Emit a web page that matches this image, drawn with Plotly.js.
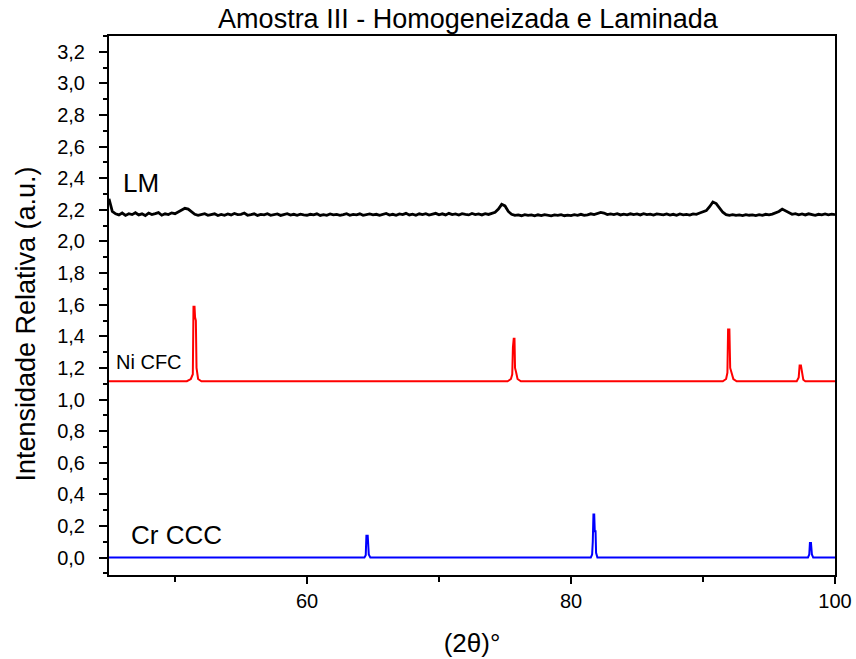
<!DOCTYPE html>
<html>
<head>
<meta charset="utf-8">
<script src="https://cdn.plot.ly/plotly-3.0.1.min.js"></script>
<style>html,body{margin:0;padding:0;background:#fff}#chart{width:856px;height:659px}</style>
</head>
<body>
<div id="chart"></div>
<script>
// LM pattern: 2theta from 45 to 100, step 0.25
const lmStart = 45;
const lmStep = 0.25;
const lmY = [
  2.27, 2.19, 2.175, 2.168, 2.18, 2.165, 2.176, 2.17, 2.182, 2.168, 2.175, 2.164, 2.18, 2.17, 2.176, 2.183, 2.166, 2.175, 2.17, 2.181,
  2.176, 2.186, 2.2, 2.21, 2.205, 2.19, 2.172, 2.165, 2.171, 2.176, 2.166, 2.17, 2.175, 2.164, 2.171, 2.166, 2.174, 2.168, 2.177, 2.17,
  2.172, 2.18, 2.166, 2.17, 2.175, 2.165, 2.171, 2.168, 2.176, 2.166, 2.17, 2.174, 2.165, 2.17, 2.176, 2.167, 2.172, 2.166, 2.173, 2.169,
  2.166, 2.172, 2.168, 2.175, 2.165, 2.17, 2.166, 2.174, 2.168, 2.171, 2.165, 2.17, 2.176, 2.166, 2.171, 2.169, 2.175, 2.166, 2.17, 2.174,
  2.168, 2.172, 2.165, 2.171, 2.177, 2.167, 2.172, 2.166, 2.174, 2.17, 2.178, 2.168, 2.173, 2.166, 2.175, 2.17, 2.176, 2.167, 2.172, 2.178,
  2.169, 2.175, 2.168, 2.178, 2.17, 2.174, 2.167, 2.176, 2.171, 2.168, 2.177, 2.17, 2.174, 2.168, 2.176, 2.171, 2.178, 2.185, 2.205, 2.235,
  2.225, 2.19, 2.172, 2.165, 2.168, 2.163, 2.17, 2.165, 2.168, 2.162, 2.169, 2.164, 2.17, 2.166, 2.162, 2.168, 2.165, 2.17, 2.163, 2.167,
  2.164, 2.17, 2.166, 2.172, 2.165, 2.169, 2.175, 2.17, 2.178, 2.184, 2.18, 2.17, 2.174, 2.17, 2.176, 2.168, 2.173, 2.169, 2.175, 2.17,
  2.174, 2.168, 2.176, 2.17, 2.173, 2.167, 2.175, 2.17, 2.168, 2.174, 2.167, 2.172, 2.166, 2.174, 2.169, 2.172, 2.167, 2.175, 2.172, 2.18,
  2.186, 2.195, 2.22, 2.25, 2.24, 2.21, 2.185, 2.17, 2.166, 2.17, 2.165, 2.168, 2.164, 2.17, 2.166, 2.168, 2.164, 2.17, 2.166, 2.172,
  2.168, 2.173, 2.18, 2.19, 2.205, 2.195, 2.18, 2.172, 2.176, 2.169, 2.174, 2.168, 2.175, 2.17, 2.166, 2.172, 2.168, 2.174, 2.169, 2.173,
  2.17
];

// Ni CFC reference pattern
const niX = [45, 50.9, 51.2, 51.35, 51.4, 51.48, 51.52, 51.58, 51.63, 51.75, 52.0,
             75.2, 75.45, 75.55, 75.6, 75.66, 75.72, 75.76, 75.85, 75.95, 76.2,
             91.5, 91.75, 91.85, 91.9, 92.0, 92.06, 92.15, 92.3, 92.55,
             97.1, 97.25, 97.32, 97.42, 97.5, 97.6, 97.75, 100];
const niY = [1.116, 1.116, 1.13, 1.16, 1.587, 1.587, 1.52, 1.5, 1.2, 1.13, 1.116,
             1.116, 1.13, 1.16, 1.33, 1.384, 1.384, 1.2, 1.17, 1.13, 1.116,
             1.116, 1.13, 1.17, 1.443, 1.443, 1.2, 1.17, 1.13, 1.116,
             1.116, 1.14, 1.215, 1.215, 1.16, 1.125, 1.116, 1.116];

// Cr CCC reference pattern
const crX = [45, 64.35, 64.45, 64.5, 64.6, 64.68, 64.8,
             81.5, 81.6, 81.65, 81.7, 81.76, 81.8, 81.86, 81.9, 82.0,
             97.95, 98.05, 98.1, 98.18, 98.25, 98.35, 100];
const crY = [0.0, 0.0, 0.015, 0.139, 0.139, 0.02, 0.0,
             0.0, 0.02, 0.1, 0.272, 0.272, 0.166, 0.166, 0.03, 0.0,
             0.0, 0.02, 0.093, 0.093, 0.02, 0.0, 0.0];

const labels = ['LM', 'Ni CFC', 'Cr CCC'];
const xMajorTicks = [60, 80, 100];
const xMinorTicks = [50, 70, 90];
const yTitle = 'Intensidade Relativa (a.u.)';

const traces = [
  {type: 'scatter', mode: 'lines', x0: lmStart, dx: lmStep, y: lmY,
   line: {color: '#000000', width: 2.8}, name: labels[0]},
  {type: 'scatter', mode: 'lines', x: niX, y: niY,
   line: {color: '#ff0000', width: 2}, name: labels[1]},
  {type: 'scatter', mode: 'lines', x: crX, y: crY,
   line: {color: '#0000ff', width: 2}, name: labels[2]}
];

const font = 'Liberation Sans, Arial, sans-serif';
const layout = {
  width: 856, height: 659,
  margin: {l: 109, r: 21, t: 36, b: 84},
  paper_bgcolor: '#ffffff', plot_bgcolor: '#ffffff',
  font: {family: font, color: '#000000'},
  separators: ',.',
  showlegend: false,
  title: {text: 'Amostra III - Homogeneizada e Laminada', font: {size: 27, family: font},
          xref: 'paper', x: 0.4945, xanchor: 'center', yref: 'container', y: 0.972, yanchor: 'middle'},
  xaxis: {
    range: [45, 100], tickmode: 'array', tickvals: xMajorTicks, ticktext: xMajorTicks.map(String),
    ticks: 'outside', ticklen: 7, tickwidth: 2, tickcolor: '#000',
    minor: {tickmode: 'array', tickvals: xMinorTicks, ticks: 'outside', ticklen: 5, tickwidth: 2, tickcolor: '#000'},
    showline: true, linewidth: 2, linecolor: '#000', mirror: true,
    showgrid: false, zeroline: false, automargin: false,
    tickfont: {size: 20},
    title: {text: '(2θ)°', font: {size: 26}, standoff: 23}
  },
  yaxis: {
    range: [-0.11, 3.3], tick0: 0, dtick: 0.2, tickformat: '.1f',
    ticks: 'outside', ticklen: 8, tickwidth: 2, tickcolor: '#000',
    minor: {dtick: 0.1, ticks: 'outside', ticklen: 4, tickwidth: 2, tickcolor: '#000'},
    showline: true, linewidth: 2, linecolor: '#000', mirror: true,
    showgrid: false, zeroline: false, automargin: false,
    ticklabelstandoff: 10,
    tickfont: {size: 20}
  },
  annotations: [
    {x: -0.114, y: 0.465, xref: 'paper', yref: 'paper', text: yTitle, textangle: -90, showarrow: false,
     xanchor: 'center', yanchor: 'middle', font: {size: 27}},
    {x: 45.9, y: 2.37, xref: 'x', yref: 'y', text: labels[0], showarrow: false, xanchor: 'left', yanchor: 'middle', font: {size: 26}},
    {x: 45.4, y: 1.24, xref: 'x', yref: 'y', text: labels[1], showarrow: false, xanchor: 'left', yanchor: 'middle', font: {size: 20}},
    {x: 46.5, y: 0.146, xref: 'x', yref: 'y', text: labels[2], showarrow: false, xanchor: 'left', yanchor: 'middle', font: {size: 26}}
  ]
};

Plotly.newPlot('chart', traces, layout, {displayModeBar: false, staticPlot: true});
</script>
</body>
</html>
